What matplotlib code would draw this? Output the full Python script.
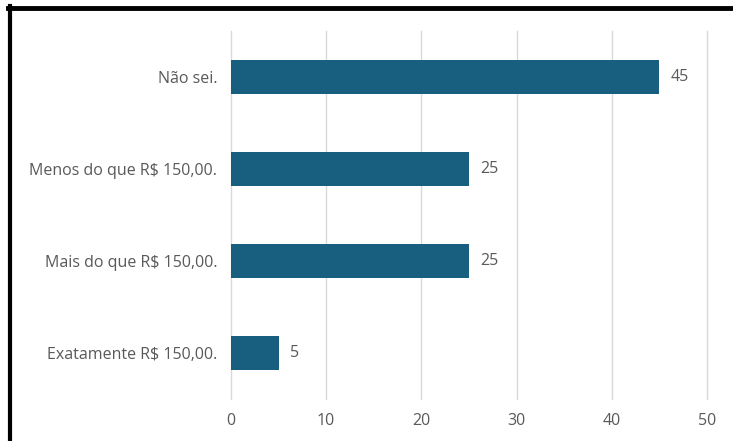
import matplotlib.pyplot as plt
from matplotlib.lines import Line2D

categories = ["Exatamente R$ 150,00.", "Mais do que R$ 150,00.",
              "Menos do que R$ 150,00.", "Não sei."]
values = [5, 25, 25, 45]
x_ticks = [0, 10, 20, 30, 40, 50]

bar_color = "#185e7f"
text_color = "#595959"

plt.rcParams['font.family'] = ['Open Sans', 'DejaVu Sans']

fig = plt.figure(figsize=(7.33, 4.41), dpi=100)
ax = fig.add_axes([0.3151, 0.0952, 0.6494, 0.8345])

ypos = range(len(categories))
ax.barh(ypos, values, height=0.36, color=bar_color, zorder=3)
for y, v in zip(ypos, values):
    ax.text(v + 1.2, y, str(v), va="center", ha="left", fontsize=11.5, color=text_color)

ax.set_xlim(0, 50)
ax.set_ylim(-0.5, 3.5)
ax.set_xticks(x_ticks)
ax.set_yticks(list(ypos))
ax.set_yticklabels(categories)
ax.grid(axis="x", color="#d9d9d9", linewidth=1, zorder=0)
for gl in ax.get_xgridlines():
    gl.set_clip_on(False)
ax.tick_params(length=0, labelsize=11.5, labelcolor=text_color)
ax.tick_params(axis="x", pad=10)
ax.tick_params(axis="y", pad=10)
for s in ax.spines.values():
    s.set_visible(False)

# black frame around the chart (cropped at right and bottom)
fig.add_artist(Line2D([10 / 733, 10 / 733], [0, 1 - 6 / 441], color="black", linewidth=3, transform=fig.transFigure))
fig.add_artist(Line2D([8 / 733, 1], [1 - 8 / 441, 1 - 8 / 441], color="black", linewidth=3.5, transform=fig.transFigure))

fig.savefig("out.png", dpi=100)
